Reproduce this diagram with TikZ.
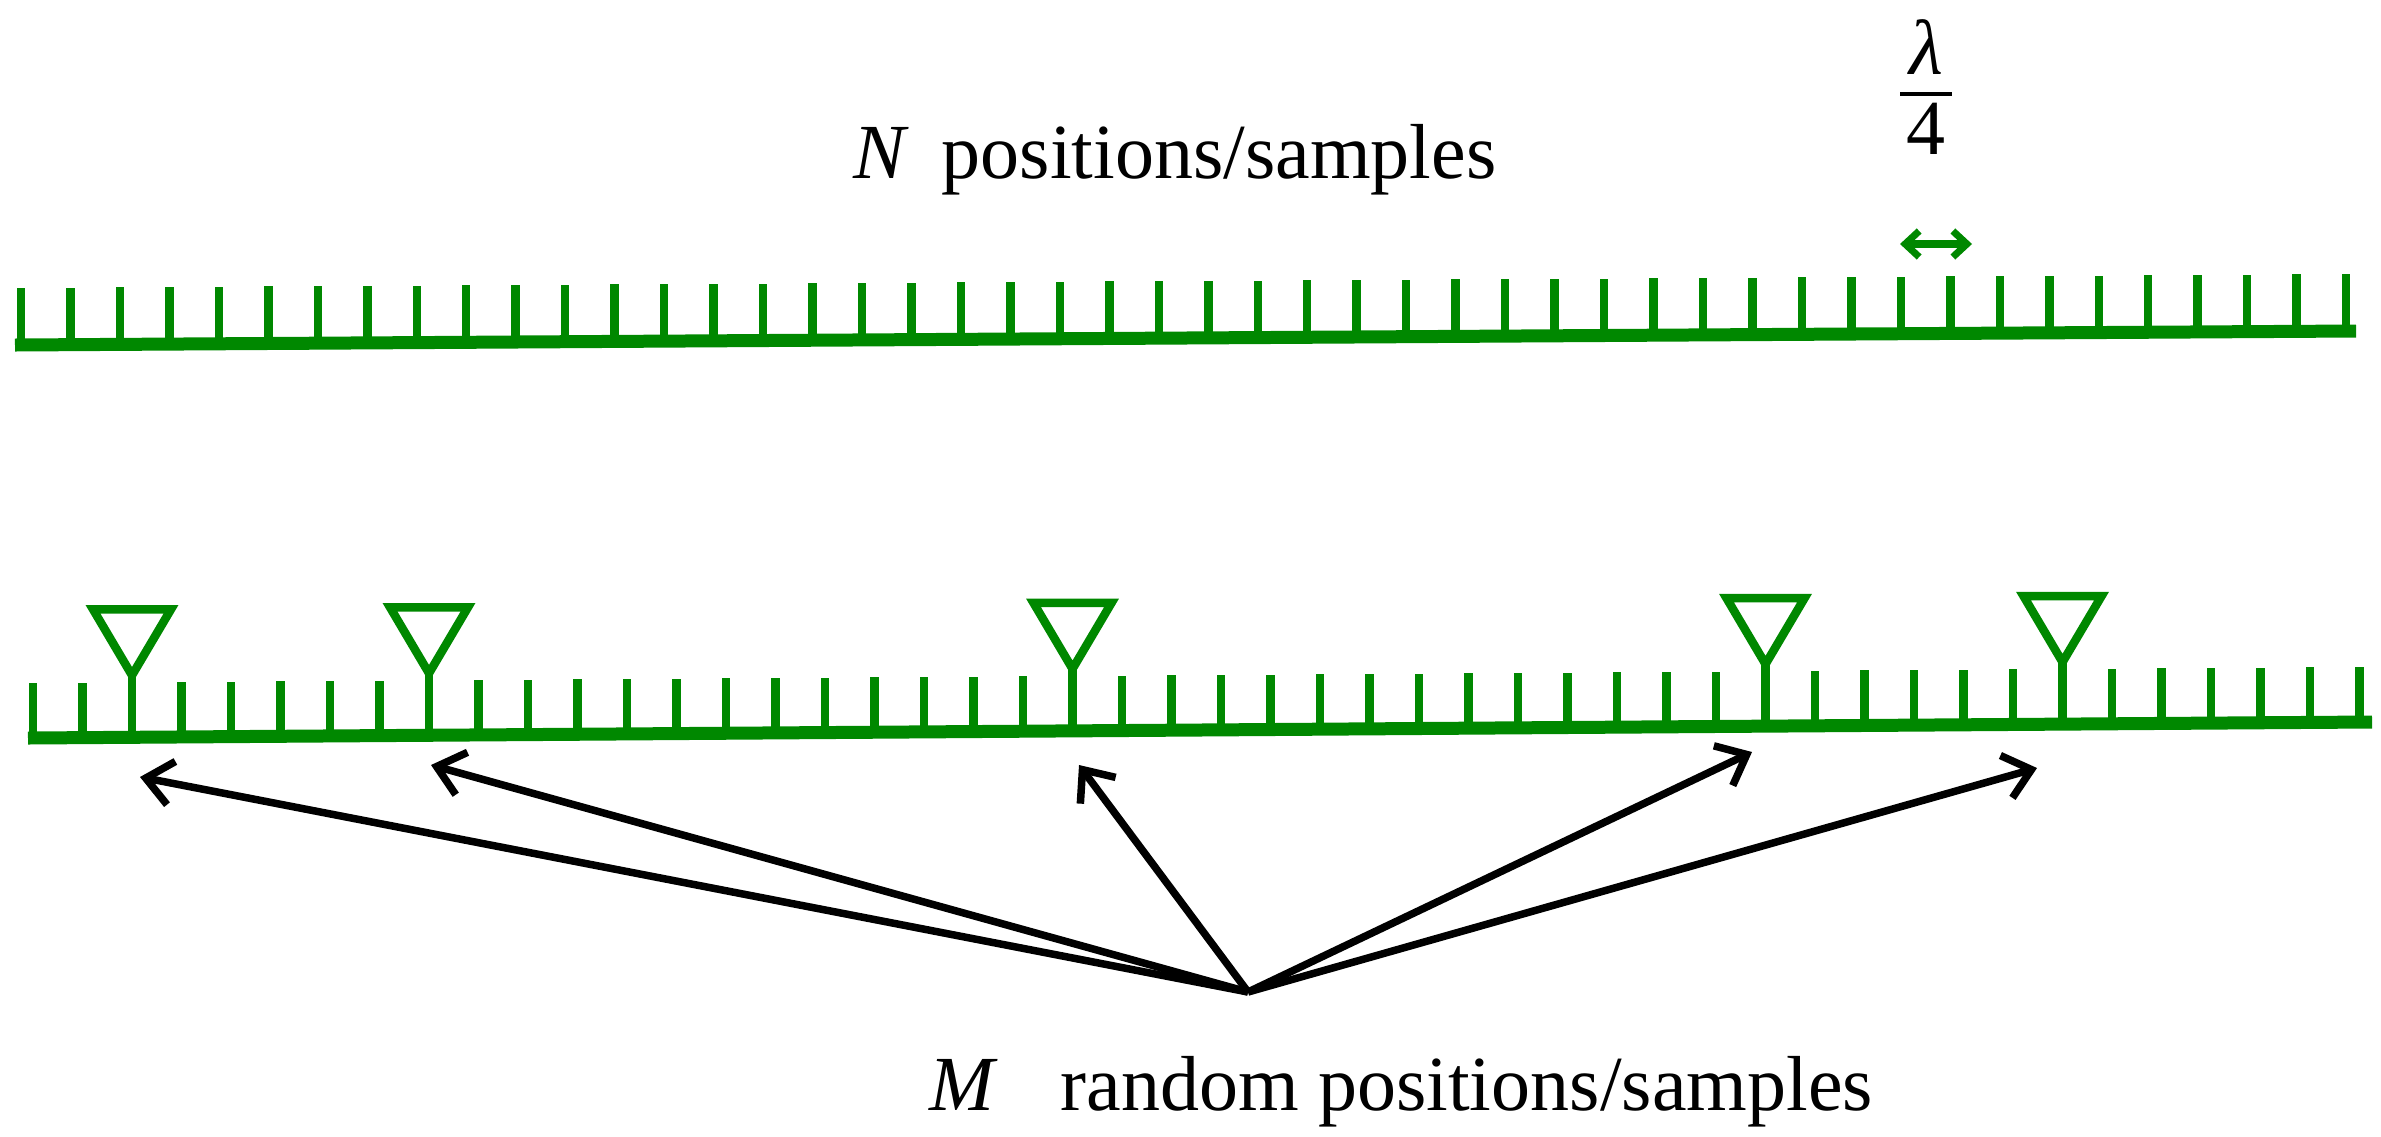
\documentclass[tikz,border=0pt]{standalone}
\usepackage{fontspec}
\setmainfont{Liberation Serif}
\usetikzlibrary{arrows.meta}
\definecolor{grn}{RGB}{0,136,0}
\begin{document}
\begin{tikzpicture}[x=1pt,y=-1pt,
  base/.style={grn,line width=13pt},
  tick/.style={grn,line width=8.5pt},
  ant/.style={grn,line width=8.5pt,line join=miter},
  ptr/.style={black,line width=7.5pt,-{Straight Barb[length=26pt,width=44pt,line width=7.5pt]}},
  lbl/.style={font=\fontsize{78}{80}\selectfont,inner sep=0pt}]
\useasboundingbox (0,0) rectangle (2381,1136);
% top ruler
\draw[base] (15,345) -- (2356,331);
\foreach \k in {0,...,47}{
  \pgfmathsetmacro\xx{21+\k*49.47}
  \pgfmathsetmacro\yy{345-(14/2341)*(\xx-15)}
  \draw[tick] (\xx,\yy) -- (\xx,\yy-57);
}
% lambda/4 marker
\node[lbl,anchor=base] (lam) at (1926,74) {\textit{λ}};
\node[lbl,anchor=base] (four) at (1926,154) {4};
\coordinate (barL) at (1900,94);
\coordinate (barR) at (1952,94);
\draw[black,line width=3.5pt] (barL) -- (barR);
\draw[grn,line width=8pt,{Straight Barb[length=14pt,width=26pt,line width=7pt]}-{Straight Barb[length=14pt,width=26pt,line width=7pt]}] (1900,244) -- (1972,244);
\node[lbl,anchor=base] (N) at (1175,178) {\textit{N}\, positions/samples};
% bottom ruler
\draw[base] (28,738) -- (2372,722);
\foreach \k in {0,...,47}{
  \pgfmathsetmacro\xx{33+\k*49.5}
  \pgfmathsetmacro\yy{738-(16/2344)*(\xx-28)}
  \draw[tick] (\xx,\yy) -- (\xx,\yy-55);
}
\foreach \k/\nm in {2/a1,8/a2,21/a3,35/a4,41/a5}{
  \pgfmathsetmacro\xx{33+\k*49.5}
  \pgfmathsetmacro\yy{738-(16/2344)*(\xx-28)}
  \draw[tick] (\xx,\yy) -- (\xx,\yy-62);
  \draw[ant] (\xx,\yy-62) -- (\xx-39,\yy-128) -- (\xx+39,\yy-128) -- cycle;
  \coordinate (\nm) at (\xx,\yy);
}
% arrows
\coordinate (hub) at (1248,992);
\coordinate (t1) at (140,777);
\coordinate (t2) at (431,765);
\coordinate (t3) at (1079,765);
\coordinate (t4) at (1752,752);
\coordinate (t5) at (2037,768);
\foreach \t in {t1,t2,t3,t4,t5} \draw[ptr] (hub) -- (\t);
\node[lbl,anchor=base] (M) at (1401,1110) {\textit{M}\;\; random positions/samples};
\end{tikzpicture}
\end{document}
